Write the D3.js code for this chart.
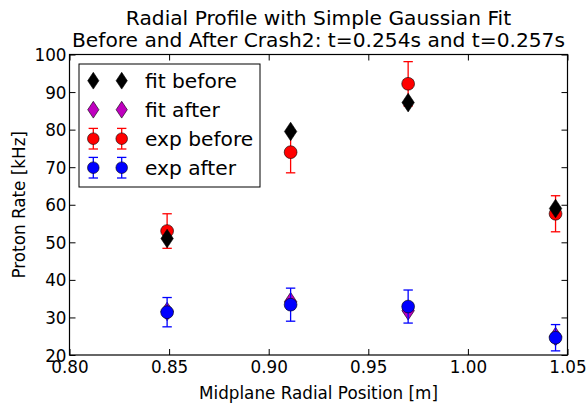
<!DOCTYPE html>
<html>
<head>
<meta charset="utf-8">
<script src="https://cdn.jsdelivr.net/npm/d3@7"></script>
<style>
  body { margin: 0; background: #fff; }
  svg text { font-family: "DejaVu Sans", sans-serif; fill: #000; }
</style>
</head>
<body>
<svg id="chart"></svg>
<script>
// Data
const xPos = [0.849, 0.911, 0.970, 1.044];
const fitBefore = [51.0, 79.5, 87.2, 59.0];
const fitAfter = [31.6, 34.2, 31.8, 24.9];
const expBefore = [53.0, 74.0, 92.2, 57.6];
const expBeforeErr = [4.6, 5.5, 5.9, 4.8];
const expAfter = [31.4, 33.4, 32.9, 24.6];
const expAfterErr = [3.9, 4.4, 4.4, 3.5];

const xTicks = [0.80, 0.85, 0.90, 0.95, 1.00, 1.05];
const yTicks = [20, 30, 40, 50, 60, 70, 80, 90, 100];
const titleLines = ["Radial Profile with Simple Gaussian Fit", "Before and After Crash2: t=0.254s and t=0.257s"];
const legendLabels = ["fit before", "fit after", "exp before", "exp after"];

// Configuration
const W = 587, H = 409;
const plot = { left: 69.5, right: 567.5, top: 54.5, bottom: 355 };
const tickFont = 16.8, bigFont = 20.2;

const svg = d3.select("#chart").attr("width", W).attr("height", H);

const xScale = d3.scaleLinear().domain([0.80, 1.05]).range([plot.left, plot.right]);
const yScale = d3.scaleLinear().domain([20, 100]).range([plot.bottom, plot.top]);

// thin diamond like matplotlib 'd'
function diamondPath(cx, cy, hw = 6.2, hh = 9.3) {
    return `M${cx},${cy - hh}L${cx + hw},${cy}L${cx},${cy + hh}L${cx - hw},${cy}Z`;
}

// Axes (ticks point inward on all four sides)
function drawAxes() {
    const fmtX = d3.format(".2f");
    const bottom = svg.append("g")
        .attr("transform", `translate(0,${plot.bottom})`)
        .call(d3.axisBottom(xScale).tickValues(xTicks).tickFormat(fmtX).tickSizeInner(-6).tickSizeOuter(0).tickPadding(6));
    const left = svg.append("g")
        .attr("transform", `translate(${plot.left},0)`)
        .call(d3.axisLeft(yScale).tickValues(yTicks).tickFormat(d3.format("d")).tickSizeInner(-6).tickSizeOuter(0).tickPadding(3));
    const top = svg.append("g")
        .attr("transform", `translate(0,${plot.top})`)
        .call(d3.axisTop(xScale).tickValues(xTicks).tickFormat("").tickSizeInner(-6).tickSizeOuter(0));
    const right = svg.append("g")
        .attr("transform", `translate(${plot.right},0)`)
        .call(d3.axisRight(yScale).tickValues(yTicks).tickFormat("").tickSizeInner(-6).tickSizeOuter(0));

    [bottom, left, top, right].forEach(g => {
        g.select(".domain").remove();
        g.selectAll("line").attr("stroke", "#000").attr("stroke-width", 1);
        g.selectAll("text").style("font-size", tickFont + "px").style("font-family", "DejaVu Sans");
    });
    left.selectAll("text").attr("dy", "0.36em");

    svg.append("rect")
        .attr("x", plot.left).attr("y", plot.top)
        .attr("width", plot.right - plot.left).attr("height", plot.bottom - plot.top)
        .attr("fill", "none").attr("stroke", "#000").attr("stroke-width", 1.2);
}

function drawErrorbars(vals, errs, color) {
    const g = svg.append("g");
    xPos.forEach((x, i) => {
        const px = xScale(x);
        const y0 = yScale(vals[i] - errs[i]), y1 = yScale(vals[i] + errs[i]);
        g.append("line").attr("x1", px).attr("x2", px).attr("y1", y0).attr("y2", y1)
            .attr("stroke", color).attr("stroke-width", 1.3);
        [y0, y1].forEach(yy => g.append("line")
            .attr("x1", px - 4.7).attr("x2", px + 4.7).attr("y1", yy).attr("y2", yy)
            .attr("stroke", color).attr("stroke-width", 1.3));
    });
    g.selectAll("circle").data(vals).join("circle")
        .attr("cx", (d, i) => xScale(xPos[i]))
        .attr("cy", d => yScale(d))
        .attr("r", 6.4)
        .attr("fill", color).attr("stroke", "#000").attr("stroke-width", 0.6);
}

function drawDiamonds(vals, color) {
    svg.append("g").selectAll("path").data(vals).join("path")
        .attr("d", (d, i) => diamondPath(xScale(xPos[i]), yScale(d)))
        .attr("fill", color).attr("stroke", "#000").attr("stroke-width", 0.6);
}

function drawLegend() {
    const box = { x: 79, y: 64, w: 181, h: 123 };
    const g = svg.append("g");
    g.append("rect").attr("x", box.x).attr("y", box.y).attr("width", box.w).attr("height", box.h)
        .attr("fill", "#fff").attr("stroke", "#000").attr("stroke-width", 1);
    const styles = [
        { kind: "d", color: "#000000" },
        { kind: "d", color: "#bf00bf" },
        { kind: "e", color: "#ff0000" },
        { kind: "e", color: "#0000ff" }
    ];
    legendLabels.forEach((label, i) => {
        const cy = 80.7 + i * 29;
        const st = styles[i];
        [93.3, 121.7].forEach(cx => {
            if (st.kind === "d") {
                g.append("path").attr("d", diamondPath(cx, cy, 5.6, 8.4))
                    .attr("fill", st.color).attr("stroke", "#000").attr("stroke-width", 0.6);
            } else {
                g.append("line").attr("x1", cx).attr("x2", cx).attr("y1", cy - 10.3).attr("y2", cy + 10.3)
                    .attr("stroke", st.color).attr("stroke-width", 1.3);
                [cy - 10.3, cy + 10.3].forEach(yy => g.append("line")
                    .attr("x1", cx - 4.7).attr("x2", cx + 4.7).attr("y1", yy).attr("y2", yy)
                    .attr("stroke", st.color).attr("stroke-width", 1.3));
                g.append("circle").attr("cx", cx).attr("cy", cy).attr("r", 5.8)
                    .attr("fill", st.color).attr("stroke", "#000").attr("stroke-width", 0.6);
            }
        });
        g.append("text").attr("x", 145).attr("y", cy + 7)
            .style("font-size", bigFont + "px").text(label);
    });
}

function drawLabels() {
    const cx = (plot.left + plot.right) / 2;
    titleLines.forEach((t, i) => {
        svg.append("text").attr("x", cx).attr("y", 25 + i * 22)
            .attr("text-anchor", "middle").style("font-size", bigFont + "px").text(t);
    });
    svg.append("text").attr("x", cx).attr("y", 399)
        .attr("text-anchor", "middle").style("font-size", tickFont + "px")
        .text("Midplane Radial Position [m]");
    svg.append("text")
        .attr("transform", `translate(25,${(plot.top + plot.bottom) / 2}) rotate(-90)`)
        .attr("text-anchor", "middle").style("font-size", tickFont + "px")
        .text("Proton Rate [kHz]");
}

svg.append("rect").attr("width", W).attr("height", H).attr("fill", "#fff");
drawAxes();
drawErrorbars(expBefore, expBeforeErr, "#ff0000");
drawDiamonds(fitBefore, "#000000");
drawDiamonds(fitAfter, "#bf00bf");
drawErrorbars(expAfter, expAfterErr, "#0000ff");
drawLegend();
drawLabels();
</script>
</body>
</html>
